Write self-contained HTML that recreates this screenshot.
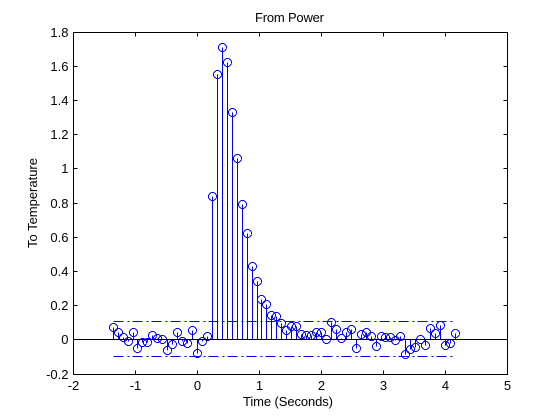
<!DOCTYPE html>
<html lang="en">
<head>
<meta charset="utf-8">
<title>From Power</title>
<style>
html,body{margin:0;padding:0;background:#fff;}
svg{display:block;}
text{font-family:"Liberation Sans",Arial,sans-serif;font-size:13px;fill:#000;}
</style>
</head>
<body>
<svg id="chart" width="560" height="420" viewBox="0 0 560 420" xmlns="http://www.w3.org/2000/svg">
<rect x="0" y="0" width="560" height="420" fill="#ffffff"/>
<text x="289.5" y="22" text-anchor="middle" textLength="69">From Power</text>
<text x="288" y="406" text-anchor="middle" textLength="90">Time (Seconds)</text>
<text transform="translate(37,203) rotate(-90)" text-anchor="middle" textLength="90">To Temperature</text>
<g id="marks"></g>
<g id="axes"></g>
</svg>
<script>
const times = [-1.36,-1.28,-1.20,-1.12,-1.04,-0.96,-0.88,-0.80,-0.72,-0.64,-0.56,-0.48,-0.40,-0.32,-0.24,-0.16,-0.08,0,0.08,0.16,
0.24,0.32,0.40,0.48,0.56,0.64,0.72,0.80,0.88,0.96,1.04,1.12,1.20,1.28,1.36,1.44,1.52,1.60,1.68,1.76,
1.84,1.92,2.00,2.08,2.16,2.24,2.32,2.40,2.48,2.56,2.64,2.72,2.80,2.88,2.96,3.04,3.12,3.20,3.28,3.36,
3.44,3.52,3.60,3.68,3.76,3.84,3.92,4.00,4.08,4.16];
const response = [0.073,0.04,0.015,-0.01,0.04,-0.05,-0.015,-0.015,0.025,0.01,0,-0.06,-0.025,0.04,-0.012,-0.02,0.055,-0.08,-0.012,0.02,
0.84,1.55,1.71,1.62,1.33,1.06,0.79,0.62,0.43,0.34,0.235,0.208,0.14,0.135,0.095,0.055,0.075,0.08,0.03,0.026,
0.026,0.04,0.045,0.003,0.1,0.06,0.01,0.04,0.06,-0.05,0.03,0.045,0.017,-0.04,0.02,0.012,0.013,-0.007,0.022,-0.087,
-0.056,-0.045,0,-0.033,0.066,0.036,0.085,-0.032,-0.02,0.034];
const confidenceTimes = [-1.36,4.16];
const confidenceUpper = [0.105,0.105];
const confidenceLower = [-0.1,-0.1];
const xTicks = [-2,-1,0,1,2,3,4,5];
const yTicks = [-0.2,0,0.2,0.4,0.6,0.8,1,1.2,1.4,1.6,1.8];
const xTickLabels = ['-2','-1','0','1','2','3','4','5'];
const yTickLabels = ['-0.2','0','0.2','0.4','0.6','0.8','1','1.2','1.4','1.6','1.8'];

const NS = 'http://www.w3.org/2000/svg';
const BLUE = '#0000ff';
const xScale = t => 73.5 + (t + 2) * 62;
const yScale = v => 374 - (v + 0.2) * 171;
const snap = p => Math.floor(p) + 0.5;

function make(tag, attrs, parent) {
  const el = document.createElementNS(NS, tag);
  for (const k in attrs) el.setAttribute(k, attrs[k]);
  parent.appendChild(el);
  return el;
}
const marks = document.getElementById('marks');
const axes = document.getElementById('axes');

const stemsGroup = make('g', {}, marks);


const markersGroup = make('g', {}, marks);



times.forEach((t, i) => {
  const px = snap(xScale(t));
  const py = snap(yScale(response[i]));
  const base = snap(yScale(0));
  const stem = make('line', {x1: px, x2: px, y1: base, y2: py, stroke: BLUE, 'stroke-width': 1, 'shape-rendering': 'crispEdges'}, stemsGroup);
  
  
  const dot = make('circle', {cx: px, cy: py, r: 4, fill: 'none', stroke: BLUE, 'stroke-width': 1, 'shape-rendering': 'crispEdges'}, markersGroup);
  
  
});

function confidence(values, name) {
  const pts = confidenceTimes.map((t, i) => snap(xScale(t)) + ',' + snap(yScale(values[i]))).join(' ');
  const line = make('polyline', {points: pts, fill: 'none', stroke: BLUE, 'stroke-width': 1, 'stroke-dasharray': '10 4 2 3', 'shape-rendering': 'crispEdges'}, marks);
  
  
}
confidence(confidenceUpper, 'upper-confidence-line');
confidence(confidenceLower, 'lower-confidence-line');

const zero = make('line', {x1: snap(xScale(-2)), x2: snap(xScale(5)), y1: snap(yScale(0)), y2: snap(yScale(0)), stroke: '#000', 'stroke-width': 1, 'shape-rendering': 'crispEdges'}, marks);



const L = snap(xScale(-2)), R = snap(xScale(5)), T = snap(yScale(1.8)), B = snap(yScale(-0.2));
const frame = make('rect', {x: L, y: T, width: R - L, height: B - T, fill: 'none', stroke: '#000', 'stroke-width': 1, 'shape-rendering': 'crispEdges'}, axes);



xTicks.forEach((t, i) => {
  const px = snap(xScale(t));
  [[B, B - 4], [T, T + 4]].forEach(p => {
    const tick = make('line', {x1: px, x2: px, y1: p[0], y2: p[1], stroke: '#000', 'shape-rendering': 'crispEdges'}, axes);
    
    
  });
  const label = make('text', {x: px, y: 390, 'text-anchor': 'middle'}, axes);
  
  
  label.textContent = xTickLabels[i];
});
yTicks.forEach((v, i) => {
  const py = snap(yScale(v));
  [[L, L + 4], [R, R - 4]].forEach(p => {
    const tick = make('line', {x1: p[0], x2: p[1], y1: py, y2: py, stroke: '#000', 'shape-rendering': 'crispEdges'}, axes);
    
    
  });
  const label = make('text', {x: 68.5, y: py + 4.5, 'text-anchor': 'end'}, axes);
  
  
  label.textContent = yTickLabels[i];
});
</script>
</body>
</html>
